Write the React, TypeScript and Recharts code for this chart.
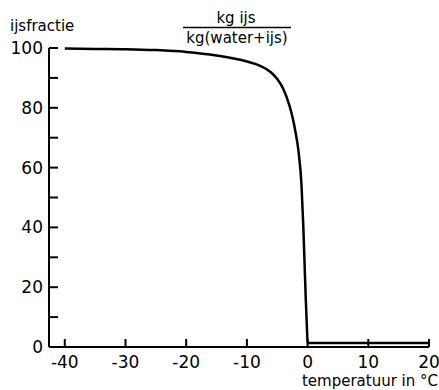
import React from 'react';
import { LineChart, Line, XAxis, YAxis, Customized } from 'recharts';

const temperatures = [-40, -35, -30, -25, -20, -15, -10, -8, -6, -5, -4, -3, -2.5, -2, -1.5, -1, -0.7, -0.5, -0.3, -0.1, 0, 5, 10, 15, 20];
const iceFraction = [99.8, 99.7, 99.6, 99.3, 98.7, 97.5, 95.5, 94.2, 91.8, 89.6, 86.3, 80.8, 77.0, 72.0, 65.5, 54.0, 40.0, 28.0, 16.0, 6.0, 1.3, 1.3, 1.3, 1.3, 1.3];
const xTicks = [-40, -30, -20, -10, 0, 10, 20];
const yTicks = [0, 10, 20, 30, 40, 50, 60, 70, 80, 90, 100];
const yLabelled = [0, 20, 40, 60, 80, 100];

const data = temperatures.map((t, i) => ({ t, v: iceFraction[i] }));

const FONT = '"DejaVu Sans", sans-serif';

const YTick = (props: any) => {
  const { x, y, payload } = props;
  const val = payload.value;
  const ax = x;
  return (
    <g>
      <line x1={ax} y1={y} x2={ax + 9} y2={y} stroke="#000" strokeWidth={2} />
      {yLabelled.includes(val) && (
        <text x={ax - 6} y={y} dy={6} textAnchor="end" fontSize={17} fontFamily={FONT} fill="#000">
          {val}
        </text>
      )}
    </g>
  );
};

const XTick = (props: any) => {
  const { x, y, payload } = props;
  const val = payload.value;
  const ay = y;
  return (
    <g>
      <line x1={x} y1={ay} x2={x} y2={ay - 8} stroke="#000" strokeWidth={2} />
      <text x={x} y={ay + 21} textAnchor="middle" fontSize={17} fontFamily={FONT} fill="#000">
        {val < 0 ? '-' + Math.abs(val) : String(val)}
      </text>
    </g>
  );
};

const Titles = () => (
  <g fontFamily={FONT} fill="#000">
    <text x={10} y={31} fontSize={15}>ijsfractie</text>
    <text x={236} y={23} fontSize={15} textAnchor="middle">kg ijs</text>
    <line x1={183} y1={27.5} x2={291} y2={27.5} stroke="#000" strokeWidth={1.5} />
    <text x={237} y={43} fontSize={15} textAnchor="middle">kg(water+ijs)</text>
    <text x={438} y={386} fontSize={15} textAnchor="end">temperatuur in °C</text>
  </g>
);

export default function App() {
  return (
    <div style={{ position: 'absolute', left: 0, top: 0, width: 439, height: 390, background: '#fff' }}>
      <LineChart width={439} height={390} data={data} margin={{ top: 48, right: 10, bottom: 13, left: 0 }}>
        <XAxis
          dataKey="t"
          type="number"
          domain={[-42.6, 20]}
          ticks={xTicks}
          tick={<XTick />}
          tickLine={false}
          tickSize={0}
          tickMargin={0}
          axisLine={{ stroke: '#000', strokeWidth: 2 }}
          height={30}
          allowDataOverflow
        />
        <YAxis
          type="number"
          domain={[0, 100]}
          ticks={yTicks}
          tick={<YTick />}
          tickLine={false}
          tickSize={0}
          tickMargin={0}
          axisLine={{ stroke: '#000', strokeWidth: 2 }}
          width={49}
          interval={0}
        />
        <Line
          type="monotone"
          dataKey="v"
          stroke="#000"
          strokeWidth={2.5}
          dot={false}
          isAnimationActive={false}
        />
        <Customized component={Titles} />
      </LineChart>
    </div>
  );
}
